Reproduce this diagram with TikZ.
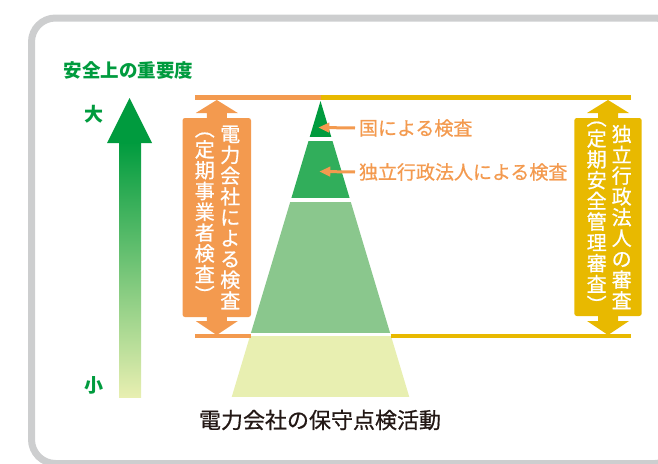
\documentclass[tikz,border=0pt]{standalone}
\usepackage{fontspec}
\newfontfamily\cjk{Noto Sans CJK JP}
\newfontfamily\cjkmed[FakeBold=0.7]{Noto Sans CJK JP}
\usetikzlibrary{positioning,calc,arrows.meta}

\definecolor{kgreen}{HTML}{009B3E}
\definecolor{kgreenb}{HTML}{31AE5B}
\definecolor{kgreenc}{HTML}{8AC78D}
\definecolor{kgreend}{HTML}{E8EFB1}
\definecolor{kgreenmid}{HTML}{B0D583}
\definecolor{korange}{HTML}{F39A4F}
\definecolor{kyellow}{HTML}{E8B900}
\definecolor{kgray}{HTML}{CDCECF}
\definecolor{kink}{HTML}{231815}

\tikzset{
  bracketbox/.style={rounded corners=2.5pt, inner sep=0pt},
  vtext/.style={text=white, align=center, inner sep=0pt,
    font=\cjkmed\fontsize{20}{20.8}\selectfont},
  steplabel/.style={text=korange, inner sep=0pt, outer sep=4pt,
    font=\cjkmed\fontsize{19}{22}\selectfont},
  labelarrow/.style={korange, line width=3pt, -{Triangle[length=11pt,width=9.5pt]}},
  scalelabel/.style={text=kgreen, inner sep=0pt, font=\cjk\bfseries\fontsize{19}{22}\selectfont},
}

\begin{document}
\begin{tikzpicture}[x=1pt, y=-1pt]
    \useasboundingbox (0,0) rectangle (658,463);
    \clip (0,0) rectangle (658,463);

    % grey frame, cut off at right and bottom
    \draw[kgray, line width=7pt, rounded corners=24pt] (31.5,18) rectangle (679,463.5);

    % importance scale
    \node[scalelabel, font=\cjk\bfseries\fontsize{18.5}{22}\selectfont] (title) at (128.5,70) {安全上の重要度};
    \node[scalelabel] (dai) at (94,114) {大};
    \node[scalelabel] (sho) at (94,385) {小};
    \shade[top color=kgreen, middle color=kgreenmid, bottom color=kgreend] (119,142) rectangle (141,397);
    \fill[kgreen] (129.5,98) -- (152,143) -- (107,143) -- cycle;

    % pyramid in four bands
    \begin{scope}
        \clip (320.5,101) -- (409.3,397) -- (231.7,397) -- cycle;
        \fill[kgreen]  (200,90)    rectangle (440,136.7);
        \fill[kgreenb] (200,141)   rectangle (440,197.7);
        \fill[kgreenc] (200,202.3) rectangle (440,333.4);
        \fill[kgreend] (200,336.4) rectangle (440,397);
    \end{scope}

    % top and bottom limit lines
    \draw[korange, line width=4.5pt] (195,97.5) -- (320.5,97.5);
    \draw[kyellow, line width=4.5pt] (320.5,97.5) -- (631,97.5);
    \draw[korange, line width=4.5pt] (195,336) -- (250.6,336);
    \draw[kyellow, line width=4.5pt] (390.6,336) -- (631,336);

    % power company bracket
    \fill[korange] (206.75,119) -- (206.75,113) -- (195.75,113) -- (216.75,100)
        -- (237.75,113) -- (226.75,113) -- (226.75,119) -- cycle;
    \fill[korange] (206.75,316) -- (206.75,321) -- (195.75,321) -- (216.75,335)
        -- (237.75,321) -- (226.75,321) -- (226.75,316) -- cycle;
    \node[bracketbox, fill=korange, minimum width=68.5pt, minimum height=199pt] (denryoku) at (216.75,217.5) {};
    \node[vtext] (denryokuR) at ([xshift=13.5pt]denryoku.center) {電\\力\\会\\社\\に\\よ\\る\\検\\査};
    \node[vtext] (denryokuL) at ([xshift=-12pt]denryoku.center) {︵\\定\\期\\事\\業\\者\\検\\査\\︶};

    % independent agency bracket
    \fill[kyellow] (598,119) -- (598,113) -- (587,113) -- (608,100)
        -- (629,113) -- (618,113) -- (618,119) -- cycle;
    \fill[kyellow] (598,315) -- (598,321) -- (587,321) -- (608,335)
        -- (629,321) -- (618,321) -- (618,315) -- cycle;
    \node[bracketbox, fill=kyellow, minimum width=67.4pt, minimum height=198pt] (dokuritsu) at (608,217) {};
    \node[vtext] (dokuritsuR) at ([xshift=13.7pt]dokuritsu.center) {独\\立\\行\\政\\法\\人\\の\\審\\査};
    \node[vtext] (dokuritsuL) at ([xshift=-11.3pt]dokuritsu.center) {︵\\定\\期\\安\\全\\管\\理\\審\\査\\︶};

    % inspection labels
    \node[steplabel, anchor=west] (kuni) at (355,128) {国による検査};
    \coordinate (kunitip) at (318.3,127.5);
    \draw[labelarrow] (kuni.west) -- (kunitip);
    \node[steplabel, anchor=west] (hojin) at (355,172) {独立行政法人による検査};
    \coordinate (hojintip) at (319.3,171.5);
    \draw[labelarrow] (hojin.west) -- (hojintip);

    % caption
    \node[text=kink, inner sep=0pt, font=\cjkmed\fontsize{22}{26}\selectfont] (hoshu) at (320,420) {電力会社の保守点検活動};
\end{tikzpicture}
\end{document}
